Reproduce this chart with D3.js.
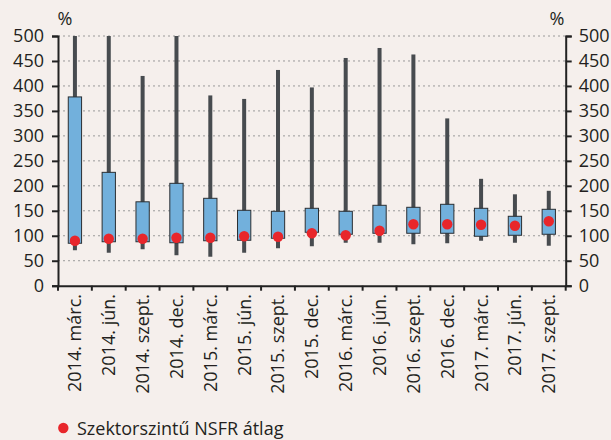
<!DOCTYPE html>
<html><head><meta charset="utf-8">
<script src="https://cdn.jsdelivr.net/npm/d3@7"></script>
<style>body{margin:0;background:#f5efec;}svg{display:block;}</style>
</head><body>
<svg id="c" width="611" height="440"></svg>
<script>
const categories = ["2014. márc.","2014. jún.","2014. szept.","2014. dec.","2015. márc.","2015. jún.","2015. szept.","2015. dec.","2016. márc.","2016. jún.","2016. szept.","2016. dec.","2017. márc.","2017. jún.","2017. szept."];
const whiskerMax = [500,500,420,500,381,374,432,397,456,476,463,335,214,183,190];
const boxTop     = [378,227,168,205,175,151,149,155,149,161,157,163,155,139,153];
const boxBottom  = [85,88,88,86,90,91,95,107,103,105,105,105,99,101,103];
const whiskerMin = [71,66,73,61,58,66,75,79,86,86,83,85,90,86,80];
const average    = [90,94,94,96,96,99,98,105,101,110,123,123,122,120,129];
const yTicks = [0,50,100,150,200,250,300,350,400,450,500];
const legendLabel = "Szektorszintű NSFR átlag";

const svg = d3.select("#c");
const L = 58, R = 565.7, T = 36, B = 285.7;
const font = "'Open Sans', sans-serif";
const x = d3.scaleBand().domain(categories).range([L, R]).padding(0);
const y = d3.scaleLinear().domain([0, 500]).range([B, T]);

// gridlines
svg.append("g").selectAll("line").data(yTicks.filter(d => d > 0)).join("line")
  .attr("x1", L).attr("x2", R).attr("y1", d => y(d)).attr("y2", d => y(d))
  .attr("stroke", "#9a9a9a").attr("stroke-width", 1).attr("stroke-dasharray", "2,3");

const data = categories.map((c, i) => ({c, hi: whiskerMax[i], top: boxTop[i], bot: boxBottom[i], lo: whiskerMin[i], avg: average[i]}));
const cx = d => x(d.c) + x.bandwidth() / 2;

// whiskers
svg.append("g").selectAll("rect").data(data).join("rect")
  .attr("x", d => cx(d) - 2).attr("width", 4)
  .attr("y", d => y(Math.min(d.hi, 500))).attr("height", d => y(d.lo) - y(Math.min(d.hi, 500)))
  .attr("fill", "#474b4f");

// boxes
const bw = 13.3;
svg.append("g").selectAll("rect").data(data).join("rect")
  .attr("x", d => cx(d) - bw / 2).attr("width", bw)
  .attr("y", d => y(d.top)).attr("height", d => y(d.bot) - y(d.top))
  .attr("fill", "#72b0dc").attr("stroke", "#2b2f33").attr("stroke-width", 1);

// average dots
svg.append("g").selectAll("circle").data(data).join("circle")
  .attr("cx", cx).attr("cy", d => y(d.avg)).attr("r", 5.2)
  .attr("fill", "#e8262b");

// axes
const yl = svg.append("g").attr("transform", `translate(${L},0)`)
  .call(d3.axisLeft(y).tickValues(yTicks).tickSize(6).tickPadding(8));
const yr = svg.append("g").attr("transform", `translate(${R},0)`)
  .call(d3.axisRight(y).tickValues(yTicks).tickSize(6).tickPadding(7));
[yl, yr].forEach(g => {
  g.select(".domain").attr("stroke", "#222").attr("stroke-width", 2);
  g.selectAll(".tick line").attr("stroke", "#222").attr("stroke-width", 2);
  g.selectAll(".tick text").attr("font-family", font).attr("font-size", 18).attr("fill", "#231f20");
});

const xa = svg.append("g").attr("transform", `translate(0,${B})`)
  .call(d3.axisBottom(x).tickSize(0).tickFormat(""));
xa.select(".domain").attr("stroke", "#222").attr("stroke-width", 2);
// boundary ticks
const bounds = categories.map(c => x(c)).concat([R]);
svg.append("g").selectAll("line").data(bounds).join("line")
  .attr("x1", d => d).attr("x2", d => d).attr("y1", B).attr("y2", B + 5)
  .attr("stroke", "#222").attr("stroke-width", 2);

// x labels
svg.append("g").selectAll("text").data(categories).join("text")
  .attr("transform", d => `translate(${x(d) + x.bandwidth() / 2},294) rotate(-90)`)
  .attr("text-anchor", "end").attr("dy", "0.36em")
  .attr("font-family", font).attr("font-size", 18).attr("fill", "#231f20")
  .text(d => d);

// units
svg.append("text").attr("x", 65).attr("y", 25).attr("text-anchor", "middle")
  .attr("font-family", font).attr("font-size", 18).attr("fill", "#231f20").text("%");
svg.append("text").attr("x", 557).attr("y", 25).attr("text-anchor", "middle")
  .attr("font-family", font).attr("font-size", 18).attr("fill", "#231f20").text("%");

// legend
svg.append("circle").attr("cx", 63.3).attr("cy", 428).attr("r", 5.2).attr("fill", "#e8262b");
svg.append("text").attr("x", 77).attr("y", 435)
  .attr("font-family", font).attr("font-size", 18).attr("fill", "#231f20").text(legendLabel);
</script>
</body></html>
